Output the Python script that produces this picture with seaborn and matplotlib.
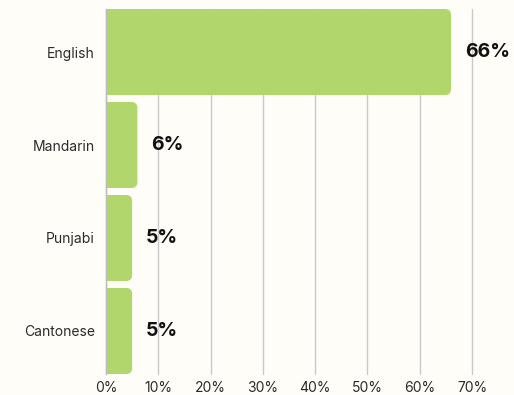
import matplotlib
matplotlib.use("Agg")
import matplotlib.pyplot as plt
from matplotlib.patches import FancyBboxPatch
import seaborn as sns
import pandas as pd

languages = ["English", "Mandarin", "Punjabi", "Cantonese"]
shares = [66, 6, 5, 5]
x_ticks = [0, 10, 20, 30, 40, 50, 60, 70]
x_tick_labels = [f"{t}%" for t in x_ticks]

BG = "#fffdf8"
BAR = "#b1d76c"
GRID = "#c9c9c9"

sns.set_theme(style="white")
plt.rcParams["font.family"] = ["Inter", "DejaVu Sans"]

df = pd.DataFrame({"language": languages, "share": shares})

fig = plt.figure(figsize=(5.14, 3.95), dpi=100, facecolor=BG)
ax = fig.add_axes([106 / 514, 21 / 395, 366 / 514, 365 / 395])
ax.set_facecolor(BG)

bar_w = 0.925
sns.barplot(data=df, x="share", y="language", orient="h", color=BAR,
            width=bar_w, saturation=1, ax=ax, zorder=2)

ax.set_xlim(0, 70)
ax.set_ylim(3 + bar_w / 2, -bar_w / 2)
ax.set_xticks(x_ticks)
ax.set_xticklabels(x_tick_labels)
ax.xaxis.grid(True, color=GRID, linewidth=1)
for gl in ax.get_xgridlines():
    gl.set_clip_on(False)
ax.set_axisbelow(True)
for s in ["top", "right", "bottom"]:
    ax.spines[s].set_visible(False)
ax.spines["left"].set_color("#bdbdbd")
ax.spines["left"].set_linewidth(1)
ax.spines["left"].set_zorder(3)
ax.tick_params(axis="both", length=0, labelsize=10, colors="#2b2b2b", pad=5)
ax.tick_params(axis="y", pad=8)
ax.set_xlabel("")
ax.set_ylabel("")

# swap the square bars for ones with rounded ends
x_per_px = 70 / 366
y_per_px = (3 + bar_w) / 365
radius_px = 6
for patch in list(ax.patches):
    y0 = patch.get_y()
    w, h = patch.get_width(), patch.get_height()
    patch.remove()
    start = -2.0
    box = FancyBboxPatch((start, y0), w - start, h,
                         boxstyle=f"round,pad=0,rounding_size={radius_px * x_per_px}",
                         mutation_aspect=y_per_px / x_per_px,
                         facecolor=BAR, edgecolor="none", zorder=2, clip_on=True)
    ax.add_patch(box)

for i, v in enumerate(shares):
    ax.annotate(f"{v}%", xy=(v, i), xytext=(10, 0), textcoords="offset points",
                ha="left", va="center", fontsize=14, fontweight="bold",
                color="#111111", annotation_clip=False, zorder=4)

fig.savefig("out.png", dpi=100, facecolor=BG)
